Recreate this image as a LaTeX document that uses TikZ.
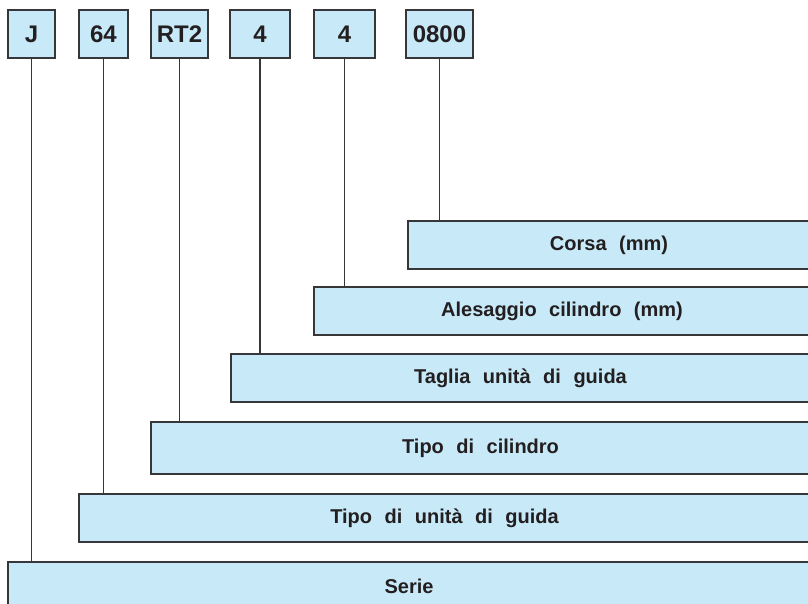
\documentclass[tikz,border=0pt]{standalone}
\usepackage{fontspec}
\setmainfont{Liberation Sans}
\usepackage{xcolor}
\usepackage{tikz}
\usetikzlibrary{positioning,calc}
\definecolor{CodeBlue}{RGB}{200,233,248}
\definecolor{CodeLine}{RGB}{55,55,58}
\definecolor{CodeText}{RGB}{35,31,32}
\newcommand{\barfont}{\fontsize{20}{24}\selectfont\bfseries\spaceskip 12.5pt\relax}
\tikzset{
  codebox/.style={draw=CodeLine,fill=CodeBlue,line width=1.4pt,minimum height=48pt,inner sep=0pt,text=CodeText,font=\fontsize{24}{28}\selectfont\bfseries},
  bar/.style={draw=CodeLine,fill=CodeBlue,line width=1.4pt,minimum height=48pt,inner sep=0pt,text=CodeText,font=\barfont},
  lead/.style={draw=CodeLine,line width=1.4pt},
}

\begin{document}
\begin{tikzpicture}[x=1pt,y=-1pt]
    \useasboundingbox (0,0) rectangle (808,604);
    %% Code fields
    \node[codebox,minimum width=47pt] (serie)    at (31.5,34)  {J};
    \node[codebox,minimum width=49pt] (unita)    at (103.5,34) {64};
    \node[codebox,minimum width=57pt] (cilindro) at (179.5,34) {RT2};
    \node[codebox,minimum width=60pt] (taglia)   at (260,34)   {4};
    \node[codebox,minimum width=61pt] (alesaggio) at (344.5,34) {4};
    \node[codebox,minimum width=67pt] (corsa)    at (439.5,34) {0800};
    %% Meaning bars (run off the right edge)
    \node[bar,minimum width=402pt] (corsabar)    at (609,245)   {Corsa (mm)};
    \node[bar,minimum width=496pt] (alesbar)     at (562,311)   {Alesaggio cilindro (mm)};
    \node[bar,minimum width=579pt] (tagliabar)   at (520.5,378) {Taglia unità di guida};
    \node[bar,minimum width=659pt,minimum height=52pt] (cilbar) at (480.5,448) {Tipo di cilindro};
    \node[bar,minimum width=731pt] (unitabar)    at (444.5,518) {Tipo di unità di guida};
    \node[bar,minimum width=802pt] (seriebar)    at (409,586)   {Serie};
    %% Leaders
    \draw[lead] (serie.south)     -- (serie.south |- seriebar.north);
    \draw[lead] (unita.south)     -- (unita.south |- unitabar.north);
    \draw[lead] (cilindro.south)  -- (cilindro.south |- cilbar.north);
    \draw[lead] (taglia.south)    -- (taglia.south |- tagliabar.north);
    \draw[lead] (alesaggio.south) -- (alesaggio.south |- alesbar.north);
    \draw[lead] (corsa.south)     -- (corsa.south |- corsabar.north);
\end{tikzpicture}
\end{document}
